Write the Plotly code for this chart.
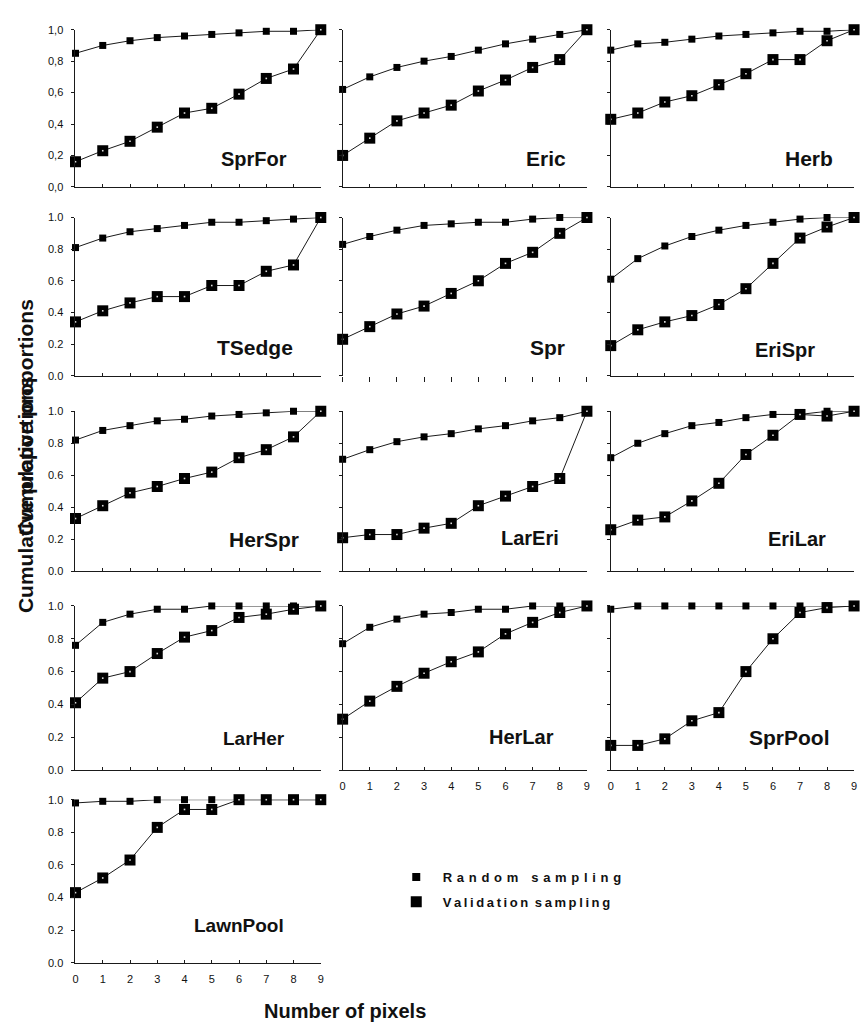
import plotly.graph_objects as go

FONT = "Liberation Sans, Arial, sans-serif"

pixels = [0, 1, 2, 3, 4, 5, 6, 7, 8, 9]
tick_text_comma = ["0,0", "0,2", "0,4", "0,6", "0,8", "1,0"]
tick_text_dot = ["0.0", "0.2", "0.4", "0.6", "0.8", "1.0"]
tick_vals = [0, 0.2, 0.4, 0.6, 0.8, 1.0]

panel_names = ["SprFor", "Eric", "Herb", "TSedge", "Spr", "EriSpr",
               "HerSpr", "LarEri", "EriLar", "LarHer", "HerLar", "SprPool", "LawnPool"]

random_SprFor = [0.85, 0.90, 0.93, 0.95, 0.96, 0.97, 0.98, 0.99, 0.99, 1.00]
valid_SprFor = [0.16, 0.23, 0.29, 0.38, 0.47, 0.50, 0.59, 0.69, 0.75, 1.00]
random_Eric = [0.62, 0.70, 0.76, 0.80, 0.83, 0.87, 0.91, 0.94, 0.97, 1.00]
valid_Eric = [0.20, 0.31, 0.42, 0.47, 0.52, 0.61, 0.68, 0.76, 0.81, 1.00]
random_Herb = [0.87, 0.91, 0.92, 0.94, 0.96, 0.97, 0.98, 0.99, 0.99, 1.00]
valid_Herb = [0.43, 0.47, 0.54, 0.58, 0.65, 0.72, 0.81, 0.81, 0.93, 1.00]
random_TSedge = [0.81, 0.87, 0.91, 0.93, 0.95, 0.97, 0.97, 0.98, 0.99, 1.00]
valid_TSedge = [0.34, 0.41, 0.46, 0.50, 0.50, 0.57, 0.57, 0.66, 0.70, 1.00]
random_Spr = [0.83, 0.88, 0.92, 0.95, 0.96, 0.97, 0.97, 0.99, 1.00, 1.00]
valid_Spr = [0.23, 0.31, 0.39, 0.44, 0.52, 0.60, 0.71, 0.78, 0.90, 1.00]
random_EriSpr = [0.61, 0.74, 0.82, 0.88, 0.92, 0.95, 0.97, 0.99, 1.00, 1.00]
valid_EriSpr = [0.19, 0.29, 0.34, 0.38, 0.45, 0.55, 0.71, 0.87, 0.94, 1.00]
random_HerSpr = [0.82, 0.88, 0.91, 0.94, 0.95, 0.97, 0.98, 0.99, 1.00, 1.00]
valid_HerSpr = [0.33, 0.41, 0.49, 0.53, 0.58, 0.62, 0.71, 0.76, 0.84, 1.00]
random_LarEri = [0.70, 0.76, 0.81, 0.84, 0.86, 0.89, 0.91, 0.94, 0.96, 1.00]
valid_LarEri = [0.21, 0.23, 0.23, 0.27, 0.30, 0.41, 0.47, 0.53, 0.58, 1.00]
random_EriLar = [0.71, 0.80, 0.86, 0.91, 0.93, 0.96, 0.98, 0.98, 1.00, 1.00]
valid_EriLar = [0.26, 0.32, 0.34, 0.44, 0.55, 0.73, 0.85, 0.98, 0.97, 1.00]
random_LarHer = [0.76, 0.90, 0.95, 0.98, 0.98, 1.00, 1.00, 1.00, 1.00, 1.00]
valid_LarHer = [0.41, 0.56, 0.60, 0.71, 0.81, 0.85, 0.93, 0.95, 0.98, 1.00]
random_HerLar = [0.77, 0.87, 0.92, 0.95, 0.96, 0.98, 0.98, 1.00, 1.00, 1.00]
valid_HerLar = [0.31, 0.42, 0.51, 0.59, 0.66, 0.72, 0.83, 0.90, 0.96, 1.00]
random_SprPool = [0.98, 1.00, 1.00, 1.00, 1.00, 1.00, 1.00, 1.00, 1.00, 1.00]
valid_SprPool = [0.15, 0.15, 0.19, 0.30, 0.35, 0.60, 0.80, 0.96, 0.99, 1.00]
random_LawnPool = [0.98, 0.99, 0.99, 1.00, 1.00, 1.00, 1.00, 1.00, 1.00, 1.00]
valid_LawnPool = [0.43, 0.52, 0.63, 0.83, 0.94, 0.94, 1.00, 1.00, 1.00, 1.00]

random_series = [random_SprFor, random_Eric, random_Herb, random_TSedge, random_Spr,
                 random_EriSpr, random_HerSpr, random_LarEri, random_EriLar,
                 random_LarHer, random_HerLar, random_SprPool, random_LawnPool]
valid_series = [valid_SprFor, valid_Eric, valid_Herb, valid_TSedge, valid_Spr,
                valid_EriSpr, valid_HerSpr, valid_LarEri, valid_EriLar,
                valid_LarHer, valid_HerLar, valid_SprPool, valid_LawnPool]

# label positions in data coordinates (x, y) per panel
label_pos = [(6.55, 0.18), (7.5, 0.18), (7.35, 0.18), (6.6, 0.18), (7.55, 0.18), (6.45, 0.16),
             (6.9, 0.20), (6.9, 0.21), (6.9, 0.20), (6.55, 0.19), (6.6, 0.20), (6.6, 0.20), (6.0, 0.23)]
label_size = [20, 21, 21, 21, 21, 20, 21, 20, 20, 19, 20, 21, 19]

W, H = 866, 1034
col_px = [(73, 320), (342, 588), (612, 857)]
row_px = [(24, 183), (214, 374), (410, 572), (607, 773), (803, 968)]

fig = go.Figure()
layout = dict(
    width=W, height=H, margin=dict(l=0, r=0, t=0, b=0),
    paper_bgcolor="white", plot_bgcolor="white",
    font=dict(family=FONT, color="#111", size=11),
    showlegend=True,
)
annotations = []
LINE_C = "#1a1a1a"

for i, name in enumerate(panel_names):
    r, c = divmod(i, 3)
    n = i + 1
    xa = "x" if n == 1 else f"x{n}"
    ya = "y" if n == 1 else f"y{n}"
    x0, x1 = col_px[c]
    y0, y1 = row_px[r]
    show_x_labels = name in ("HerLar", "SprPool", "LawnPool")
    show_y_labels = c == 0
    broken_x = name == "Spr"  # this panel shows floating x ticks without an axis line
    layout["xaxis" if n == 1 else f"xaxis{n}"] = dict(
        domain=[x0 / W, x1 / W], range=[0, 9], anchor=ya,
        showgrid=False, zeroline=False, showline=not broken_x, linecolor=LINE_C, linewidth=1,
        ticks="outside" if broken_x else "inside", ticklen=5 if broken_x else 3,
        tickcolor=LINE_C, tickvals=pixels,
        showticklabels=show_x_labels, tickfont=dict(size=11, color="#111"),
        ticklabelstandoff=6, fixedrange=True,
    )
    layout["yaxis" if n == 1 else f"yaxis{n}"] = dict(
        domain=[1 - y1 / H, 1 - y0 / H], range=[0, 1], anchor=xa,
        showgrid=False, zeroline=False, showline=True, linecolor=LINE_C, linewidth=1,
        ticks="outside", ticklen=3, tickcolor=LINE_C, tickvals=tick_vals,
        ticktext=tick_text_comma if r == 0 else tick_text_dot,
        showticklabels=show_y_labels, tickfont=dict(size=11, color="#111"),
        ticklabelstandoff=6, fixedrange=True,
    )
    fig.add_trace(go.Scatter(
        x=pixels, y=random_series[i], xaxis=xa, yaxis=ya, mode="lines+markers",
        line=dict(color=LINE_C, width=1),
        marker=dict(symbol="square", size=7, color="#000"),
        cliponaxis=False, showlegend=False, hoverinfo="skip"))
    fig.add_trace(go.Scatter(
        x=pixels, y=valid_series[i], xaxis=xa, yaxis=ya, mode="lines+markers",
        line=dict(color=LINE_C, width=1),
        marker=dict(symbol="square", size=11, color="#000"),
        cliponaxis=False, showlegend=False, hoverinfo="skip"))
    fig.add_trace(go.Scatter(
        x=pixels, y=valid_series[i], xaxis=xa, yaxis=ya, mode="markers",
        marker=dict(symbol="square", size=1.6, color="#ddd"),
        cliponaxis=False, showlegend=False, hoverinfo="skip"))
    lx, ly = label_pos[i]
    annotations.append(dict(
        x=lx, y=ly, xref=xa, yref=ya, text=f"<b>{name}</b>", showarrow=False,
        font=dict(family=FONT, size=label_size[i], color="#111"),
        xanchor="center", yanchor="middle"))

# legend entries (markers only), letter-spaced text
gap_r = " \u200a"
gap_v = "\u2009"
rand_label = "\u2002" + gap_r.join(list("Random")) + "\u2002\u2002" + gap_r.join(list("sampling"))
val_label = "\u2002" + gap_v.join(list("Validation")) + "\u2002" + gap_v.join(list("sampling"))
fig.add_trace(go.Scatter(
    x=[None], y=[None], mode="markers", name=f"<b>{rand_label}</b>",
    marker=dict(symbol="square", size=8, color="#000"), legendgroup="a"))
fig.add_trace(go.Scatter(
    x=[None], y=[None], mode="markers", name=f"<b>{val_label}</b>",
    marker=dict(symbol="square", size=11, color="#000"), legendgroup="b"))

layout["legend"] = dict(
    x=396 / W, y=1 - 866 / H, xanchor="left", yanchor="top",
    bgcolor="rgba(0,0,0,0)", borderwidth=0, tracegroupgap=5,
    font=dict(family=FONT, size=13, color="#111"), itemsizing="trace",
)

# axis titles
annotations.append(dict(
    x=344 / W, y=1 - 1017 / H, xref="paper", yref="paper",
    text="<b>Number of pixels</b>", showarrow=False,
    font=dict(family=FONT, size=20, color="#111"), xanchor="center", yanchor="middle"))
for cy in (494, 416):
    annotations.append(dict(
        x=22 / W, y=1 - cy / H, xref="paper", yref="paper",
        text="<b>Cumulative proportions</b>", showarrow=False, textangle=-90,
        font=dict(family=FONT, size=21, color="#111"), xanchor="center", yanchor="middle"))

layout["annotations"] = annotations
fig.update_layout(**layout)
fig.write_html("out.html")
